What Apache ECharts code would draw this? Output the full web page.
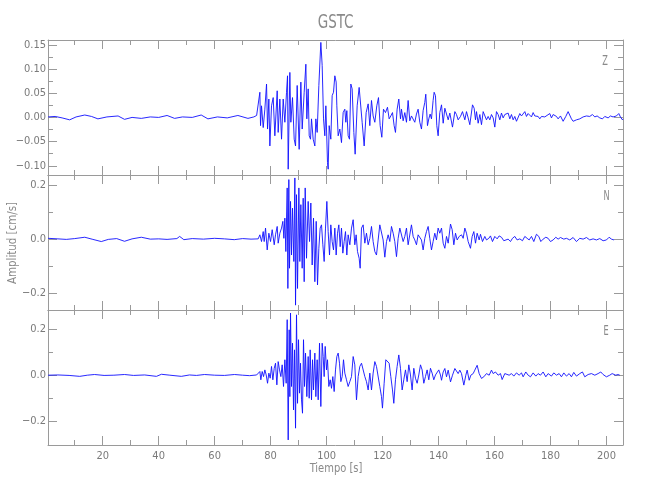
<!DOCTYPE html>
<html><head><meta charset="utf-8">
<script src="https://cdn.jsdelivr.net/npm/echarts@6/dist/echarts.min.js"></script>
<style>html,body{margin:0;padding:0;background:#fff}#c{width:650px;height:500px}</style>
</head><body><div id="c"></div>
<script>
// ---------- text ----------
const chartTitle = 'GSTC';
const xName = 'Tiempo [s]';
const yName = 'Amplitud [cm/s]';
const componentNames = ['Z', 'N', 'E'];

// ---------- axes ----------
const xRange = [0.46, 205.9];
const xMajorTicks = [20, 40, 60, 80, 100, 120, 140, 160, 180, 200];
const xMinorTicks = [10, 30, 50, 70, 90, 110, 130, 150, 170, 190];
const yRangeZ = [-0.119, 0.160];
const yRangeN = [-0.264, 0.237];
const yRangeE = [-0.303, 0.283];
const yMajorZ = [-0.10, -0.05, 0, 0.05, 0.10, 0.15];
const yMinorZ = [-0.075, -0.025, 0.025, 0.075, 0.125];
const yMajorNE = [-0.2, 0, 0.2];
const yMinorNE = [-0.1, 0.1];

// ---------- data: [time s, amplitude cm/s] ----------
const waveZ = [
[0.5,0.001],[3,0.002],[5.5,-0.001],[8.2,-0.005],[10.5,0.001],[13.6,0.005],[16,0.002],[18.3,-0.003],[21.5,0.001],[25.5,0.003],[27.8,-0.004],[30.5,0.0],[33.8,-0.002],[37,0.001],[40,0.0],[43,0.004],[45.7,-0.002],[48.5,0.001],[52,0.0],[55.2,0.005],[57.6,-0.003],[61,0.001],[64.5,-0.001],[68.3,0.004],[71.9,-0.002],[74.0,0.001],[75.0,0.004],
[75.56,0.000],[76.16,0.052],[76.40,-0.017],[76.75,0.024],[77.35,-0.021],[77.94,0.017],[78.54,0.069],[78.90,-0.024],[79.37,0.038],[79.73,-0.059],[80.32,0.024],[80.92,0.041],[81.51,-0.038],[82.35,0.055],[82.70,-0.031],[83.30,0.038],[83.90,-0.045],[84.49,0.038],[85.09,-0.010],[85.68,0.052],[86.04,0.086],[86.28,-0.107],[86.87,0.093],[87.23,-0.010],[87.82,0.041],[88.42,-0.045],[88.90,-0.059],[89.49,0.066],[89.85,0.062],[90.20,-0.066],[90.80,0.073],[91.28,-0.024],[91.99,0.052],[92.59,0.110],[92.94,-0.003],[93.42,0.059],[93.78,-0.038],[94.25,-0.045],[94.61,-0.003],[95.20,-0.045],[95.80,-0.059],[96.16,-0.003],[96.63,-0.031],[97.23,0.066],[97.94,0.155],[98.42,0.107],[98.90,-0.003],[99.37,-0.038],[99.73,0.024],[100.32,-0.093],[100.56,-0.107],[100.92,-0.017],[101.51,-0.045],[101.99,0.045],[102.47,0.052],[102.94,0.086],[103.42,0.073],[103.66,0.024],[104.13,-0.038],[104.73,-0.024],[105.32,-0.052],[105.92,0.010],[106.51,0.017],[106.87,-0.010],[107.23,0.014],[107.70,-0.038],[108.18,-0.045],[108.66,0.069],[109.13,0.059],[109.73,-0.031],[110.20,-0.076],[110.92,0.024],[111.63,0.062],[112.11,0.059],[112.70,-0.010],[113.42,-0.059],[114.13,0.010],[114.85,0.028],[115.44,-0.017],[116.04,0.035],[116.63,0.003],[117.23,-0.010],[117.94,0.024],[118.54,0.041],[119.13,-0.017],[119.73,-0.041],[120.32,0.017],[121.04,0.010],[121.75,0.021],[122.35,-0.003],[122.94,0.003],[123.54,0.010],[124.13,-0.017],[124.61,-0.031],[125.20,0.017],[125.80,0.038],[126.40,-0.003],[126.75,0.017],[127.35,-0.007],[127.94,0.010],[128.54,-0.010],[129.13,0.035],[129.73,-0.007],[130.32,0.003],[130.92,0.007],[131.51,-0.010],[132.11,0.007],[132.70,0.017],[133.30,-0.010],[133.90,-0.024],[134.49,0.014],[135.08,0.031],[135.44,0.048],[136.04,-0.017],[136.51,-0.003],[136.99,0.007],[137.47,-0.003],[138.06,0.035],[138.42,0.052],[138.90,0.045],[139.37,-0.017],[139.85,-0.038],[140.44,0.010],
[141.06,0.026],[141.65,-0.012],[142.25,0.019],[142.84,0.023],[143.44,-0.005],[144.03,0.009],[144.98,-0.020],[145.82,0.012],[146.41,0.006],[147.00,-0.005],[147.84,0.002],[148.55,0.012],[149.39,-0.005],[149.98,0.012],[150.58,-0.001],[151.17,-0.015],[152.13,0.026],[152.72,0.019],[153.20,-0.005],[153.56,0.012],[154.15,-0.012],[154.75,0.006],[155.34,-0.015],[155.94,0.012],[156.53,0.016],[157.13,-0.005],[157.72,0.002],[158.32,-0.005],[158.91,0.006],[159.51,-0.001],[160.10,-0.020],[160.70,0.012],[161.29,0.006],[161.89,-0.005],[162.48,0.009],[163.08,-0.001],[163.67,0.006],[164.27,0.002],[164.86,0.009],[165.46,-0.003],[166.05,0.006],[166.65,-0.005],[167.24,0.002],[167.84,-0.008],[168.44,-0.005],[169.03,0.008],[169.63,0.003],[170.22,0.006],[170.82,0.012],[171.41,0.002],[172.01,0.008],[172.60,0.006],[173.20,0.001],[173.79,0.010],[174.39,0.003],[174.98,-0.001],[175.58,0.002],[176.17,-0.003],[176.77,0.002],[177.36,-0.001],[177.96,0.001],[178.55,-0.003],[179.74,0.008],[180.34,-0.001],[180.94,0.006],[181.53,0.010],[182.13,0.002],[182.72,-0.003],[183.56,0.003],[184.51,-0.008],[185.46,0.002],[186.29,0.012],[186.89,0.009],[187.48,-0.003],[188.08,-0.008],[188.67,-0.010],[189.27,-0.005],[190.46,-0.003],[191.65,0.001],[192.84,0.003],[194.03,0.002],[194.98,0.006],[195.82,0.001],[196.65,0.003],[197.60,-0.001],[198.56,-0.003],[199.39,0.002],[200.58,-0.001],[201.41,0.003],[202.36,0.001],[203.55,0.003],[204.39,0.008],[204.98,0.001],[205.70,-0.005],[205.90,-0.003]
];
const waveN = [
[0.5,0.002],[4,0.0],[7,-0.002],[10,0.001],[13.6,0.006],[16.5,-0.002],[19.5,-0.010],[22,-0.002],[25,0.001],[27.8,-0.009],[30.5,0.0],[33.8,0.006],[37,-0.001],[40,0.0],[43,-0.002],[46.5,0.001],[47.5,0.009],[49,-0.003],[52,0.001],[56,-0.001],[60,0.002],[63.5,0.0],[67,-0.003],[70,0.001],[73,-0.001],
[75.56,0.000],[76.16,0.015],[76.75,-0.010],[77.35,0.027],[77.70,-0.010],[78.18,0.040],[78.78,-0.041],[79.37,0.021],[79.97,-0.010],[80.56,0.034],[81.28,-0.022],[81.75,0.015],[82.35,0.046],[82.70,-0.016],[83.30,0.021],[83.90,0.040],[84.37,0.065],[84.73,0.002],[85.09,0.077],[85.44,-0.047],[85.92,0.189],[86.16,-0.184],[86.51,0.220],[86.75,-0.109],[87.11,0.139],[87.47,-0.060],[87.82,0.114],[88.30,-0.084],[88.66,0.226],[88.90,-0.246],[89.25,0.164],[89.61,-0.184],[90.09,0.189],[90.44,-0.084],[90.80,0.127],[91.28,-0.109],[91.63,0.151],[91.99,-0.159],[92.35,0.189],[92.82,-0.072],[93.42,0.139],[93.90,-0.010],[94.37,0.133],[94.85,-0.097],[95.32,0.077],[95.80,-0.159],[96.28,0.065],[96.75,-0.171],[97.23,-0.035],[97.70,0.040],[98.18,0.052],[98.66,-0.022],[99.13,-0.084],[99.61,0.040],[100.09,0.139],[100.56,0.027],[101.04,-0.060],[101.51,0.052],[101.99,-0.010],[102.47,-0.041],[102.94,0.040],[103.42,-0.060],[103.90,0.021],[104.37,0.052],[104.85,-0.029],[105.32,0.040],[105.80,-0.053],[106.28,-0.010],[106.75,0.027],[107.23,-0.060],[107.70,0.015],[108.30,-0.022],[108.90,0.040],[109.49,0.071],[110.08,-0.022],[110.56,0.015],[111.04,-0.047],[111.63,-0.072],[111.99,-0.109],[112.47,0.040],[113.06,0.052],[113.66,-0.016],[114.25,0.021],[114.85,-0.022],[115.44,0.002],[116.04,0.046],[116.63,-0.010],[117.23,-0.047],[117.82,-0.060],[118.42,-0.004],[119.01,0.052],[119.61,0.046],[120.20,-0.004],[120.80,-0.068],[121.40,-0.010],[121.99,0.015],[122.59,-0.010],[123.18,0.046],[123.78,0.021],[124.37,-0.010],[124.97,-0.066],[125.56,0.002],[126.16,0.040],[126.75,0.034],[127.35,-0.010],[127.94,0.009],[128.54,0.040],[129.13,-0.022],[129.73,-0.029],[130.32,0.052],[130.92,0.009],[131.51,-0.004],[132.11,-0.022],[132.70,0.015],[133.30,0.009],[133.90,-0.004],[134.49,-0.041],[135.08,0.002],[135.68,0.027],[136.28,0.046],[136.87,0.002],[137.47,-0.041],[138.06,-0.010],[138.66,0.021],[139.25,-0.004],[139.85,0.040],[140.44,0.021],
[141.06,0.040],[141.65,-0.016],[142.25,-0.035],[142.84,0.009],[143.44,-0.016],[144.27,0.055],[144.87,0.034],[145.46,-0.022],[146.06,0.021],[146.65,-0.004],[147.37,0.009],[148.20,0.015],[148.79,0.002],[149.39,0.040],[149.98,0.021],[150.58,-0.010],[151.41,-0.035],[152.01,0.009],[152.60,0.027],[153.20,-0.016],[153.79,0.021],[154.51,-0.004],[154.98,0.017],[155.70,-0.010],[156.53,0.009],[157.13,-0.004],[157.96,0.002],[158.55,0.011],[159.27,-0.010],[160.10,0.009],[160.94,0.000],[161.65,0.011],[162.48,0.006],[163.32,-0.007],[164.03,-0.004],[164.86,-0.001],[165.70,-0.010],[166.41,0.002],[167.24,0.009],[168.08,-0.004],[169.03,0.000],[169.99,-0.007],[170.82,0.009],[171.65,0.002],[172.37,-0.004],[173.20,0.009],[174.03,-0.010],[174.98,0.017],[175.82,0.009],[176.53,-0.010],[177.36,-0.001],[178.32,0.006],[179.15,0.002],[179.98,-0.010],[180.94,-0.004],[181.89,0.006],[182.72,-0.001],[183.56,0.005],[184.75,-0.001],[185.70,0.002],[186.89,-0.004],[188.08,0.005],[189.27,-0.010],[190.46,0.002],[191.65,-0.001],[192.84,0.005],[194.03,-0.004],[195.22,0.000],[196.41,-0.004],[197.60,0.001],[198.79,-0.007],[199.98,-0.004],[200.94,0.006],[201.77,-0.001],[202.36,-0.007],[202.70,-0.004]
];
const waveE = [
[0.5,0.0],[4,0.001],[8,-0.001],[11.8,-0.005],[14.5,0.0],[17.1,0.003],[20.5,-0.001],[24,0.0],[27.8,0.003],[31,-0.001],[35,0.001],[39.2,-0.005],[41,0.004],[44,0.0],[48.1,-0.005],[51,0.001],[53.5,-0.001],[56.4,0.003],[60,0.0],[63.5,-0.001],[67.1,0.003],[70,0.0],[72.5,-0.002],[75,0.001],
[75.56,0.009],[76.16,0.016],[76.51,-0.020],[76.99,0.016],[77.47,-0.006],[77.94,0.023],[78.42,0.001],[78.90,-0.035],[79.37,0.009],[79.85,-0.013],[80.32,0.038],[80.80,-0.020],[81.28,0.030],[81.75,0.052],[82.23,-0.042],[82.70,0.059],[83.18,0.023],[83.66,-0.006],[84.13,0.045],[84.61,-0.049],[85.09,0.067],[85.56,-0.035],[85.92,0.241],[86.28,-0.281],[86.63,0.197],[86.87,-0.093],[87.11,0.270],[87.47,-0.049],[87.82,0.139],[88.18,-0.151],[88.54,0.110],[88.90,-0.230],[89.25,0.262],[89.61,-0.122],[89.97,0.154],[90.32,-0.078],[90.68,0.052],[91.04,-0.107],[91.39,-0.165],[91.75,0.154],[92.11,-0.049],[92.47,0.096],[92.94,-0.093],[93.42,0.081],[93.78,-0.100],[94.13,0.110],[94.61,-0.107],[94.97,0.067],[95.32,-0.064],[95.80,0.096],[96.16,-0.093],[96.63,0.067],[96.99,-0.107],[97.47,0.139],[97.94,-0.136],[98.42,0.139],[98.78,0.081],[99.13,-0.006],[99.49,0.125],[99.97,0.023],[100.32,0.067],[100.80,-0.049],[101.28,-0.020],[101.75,-0.057],[102.23,-0.006],[102.70,-0.071],[103.18,0.023],[103.66,0.081],[104.13,0.096],[104.61,0.052],[105.09,-0.028],[105.56,-0.006],[106.04,0.067],[106.51,0.009],[107.11,-0.020],[107.70,-0.049],[108.30,-0.028],[108.90,-0.006],[109.49,0.081],[110.08,0.045],[110.68,-0.107],[111.28,-0.006],[111.87,0.038],[112.47,0.052],[113.06,0.059],[113.66,-0.006],[114.25,-0.028],[114.85,-0.064],[115.44,0.009],[116.04,-0.064],[116.63,0.009],[117.23,0.059],[117.82,0.038],[118.42,0.030],[119.01,-0.049],[119.61,-0.093],[119.96,-0.143],[120.56,-0.035],[121.16,0.067],[121.75,0.074],[122.35,0.052],[122.94,-0.006],[123.54,-0.064],[124.01,-0.122],[124.61,-0.020],[125.20,0.038],[125.80,0.088],[126.40,0.030],[126.99,-0.064],[127.58,-0.020],[128.18,0.023],[128.78,-0.028],[129.37,0.045],[129.97,0.001],[130.56,-0.064],[131.16,0.030],[131.75,-0.013],[132.35,-0.035],[132.94,0.001],[133.54,0.045],[134.13,0.023],[134.73,-0.035],[135.32,-0.006],[135.92,0.023],[136.51,-0.020],[137.11,0.030],[137.70,0.009],[138.30,-0.020],[138.90,0.001],[139.49,0.009],[140.08,0.023],[140.68,0.001],
[141.06,-0.022],[141.65,0.014],[142.25,0.029],[142.84,-0.007],[143.44,0.022],[144.27,-0.029],[144.98,0.000],[145.82,0.029],[146.41,0.036],[147.00,0.007],[147.60,0.022],[148.20,0.007],[149.03,-0.043],[149.75,0.000],[150.22,0.022],[150.94,-0.022],[151.53,0.000],[152.37,0.007],[152.96,0.022],[153.79,0.043],[154.51,0.007],[155.34,-0.014],[156.17,-0.007],[157.13,0.007],[158.08,0.000],[158.91,0.022],[159.51,0.007],[160.34,0.014],[161.29,0.000],[162.13,0.007],[162.72,-0.019],[163.67,0.007],[164.27,0.010],[165.22,0.000],[166.05,0.007],[166.89,-0.004],[167.84,0.010],[168.79,0.000],[169.63,0.010],[170.22,-0.007],[171.17,0.014],[172.01,0.000],[172.84,-0.007],[173.79,0.010],[174.75,-0.004],[175.58,0.007],[176.41,0.000],[177.36,0.014],[178.32,-0.007],[179.15,0.007],[180.34,-0.004],[181.17,0.010],[182.13,0.000],[183.08,0.007],[183.91,-0.007],[184.75,0.010],[185.70,-0.004],[186.65,0.007],[187.48,-0.007],[188.32,0.012],[189.27,-0.004],[190.46,0.007],[191.41,0.014],[192.25,-0.007],[193.44,0.003],[194.63,0.007],[195.82,0.000],[197.00,0.007],[197.96,0.014],[198.79,0.003],[199.98,-0.007],[201.17,0.000],[202.01,0.007],[202.60,0.007],[203.32,0.000],[204.15,0.003],[204.75,0.000]
];

// ---------- chart ----------
const FONT = '"DejaVu Sans Condensed","Liberation Sans Narrow","DejaVu Sans",sans-serif';
const AXIS_COLOR = '#9a9a9a';
const LABEL_COLOR = '#7a7a7a';
const panels = [
  { wave: waveZ, range: yRangeZ, major: yMajorZ, minor: yMinorZ, digits: 2, top: 40 },
  { wave: waveN, range: yRangeN, major: yMajorNE, minor: yMinorNE, digits: 1, top: 175 },
  { wave: waveE, range: yRangeE, major: yMajorNE, minor: yMinorNE, digits: 1, top: 310 }
];

const grids = [], xAxes = [], yAxes = [], series = [];
function fmt(d) { return v => v.toFixed(d).replace('-', '\u2212'); }

panels.forEach((p, g) => {
  grids.push({ left: 48, right: 27, top: p.top, height: 135, outerBoundsMode: 'none' });
  const xBase = (pos, ticks, len, showLine, showLabel) => ({
    type: 'value', gridIndex: g, position: pos, min: xRange[0], max: xRange[1],
    axisLine: { show: showLine, onZero: false, lineStyle: { color: AXIS_COLOR, width: 1 } },
    axisTick: { show: true, inside: true, length: len, customValues: ticks, lineStyle: { color: AXIS_COLOR, width: 1 } },
    axisLabel: { show: showLabel, customValues: ticks, color: LABEL_COLOR, fontFamily: FONT, fontSize: 11, margin: 6 },
    splitLine: { show: false }
  });
  xAxes.push(xBase('bottom', xMajorTicks, 9, true, g === 2));
  xAxes.push(xBase('bottom', xMinorTicks, 5, false, false));
  xAxes.push(xBase('top', xMajorTicks, 9, true, false));
  xAxes.push(xBase('top', xMinorTicks, 5, false, false));
  const yBase = (pos, ticks, len, showLine, showLabel) => ({
    type: 'value', gridIndex: g, position: pos, min: p.range[0], max: p.range[1],
    axisLine: { show: showLine, onZero: false, lineStyle: { color: AXIS_COLOR, width: 1 } },
    axisTick: { show: true, inside: true, length: len, customValues: ticks, lineStyle: { color: AXIS_COLOR, width: 1 } },
    axisLabel: { show: showLabel, customValues: ticks, formatter: fmt(p.digits), color: LABEL_COLOR, fontFamily: FONT, fontSize: 11, margin: 2 },
    splitLine: { show: false }
  });
  yAxes.push(yBase('left', p.major, 9, true, true));
  yAxes.push(yBase('left', p.minor, 5, false, false));
  yAxes.push(yBase('right', p.major, 9, true, false));
  yAxes.push(yBase('right', p.minor, 5, false, false));
  series.push({
    type: 'line', xAxisIndex: 4 * g, yAxisIndex: 4 * g, data: p.wave,
    showSymbol: false, symbol: 'none', sampling: false, smooth: false,
    lineStyle: { color: '#1010ff', width: 0.9 }, clip: true, silent: true
  });
});

const txt = (x, y, text, size, sx, rot) => ({
  type: 'text', x: x, y: y, scaleX: sx, rotation: rot || 0, silent: true,
  style: { text: text, x: 0, y: 0, fill: '#8a8a8a', font: size + 'px ' + FONT, textAlign: 'center', textVerticalAlign: 'middle' }
});

const chart = echarts.init(document.getElementById('c'), null, { renderer: 'canvas' });
chart.setOption({
  animation: false,
  backgroundColor: '#ffffff',
  grid: grids, xAxis: xAxes, yAxis: yAxes, series: series,
  graphic: [
    txt(335.6, 22.5, chartTitle, 20, 0.75),
    txt(336, 469, xName, 12, 0.92),
    txt(13, 243, yName, 12, 0.95, Math.PI / 2),
    txt(605, 61, componentNames[0], 14, 0.65),
    txt(606.5, 196.5, componentNames[1], 14, 0.65),
    txt(606, 331.5, componentNames[2], 14, 0.65)
  ]
});
</script></body></html>
